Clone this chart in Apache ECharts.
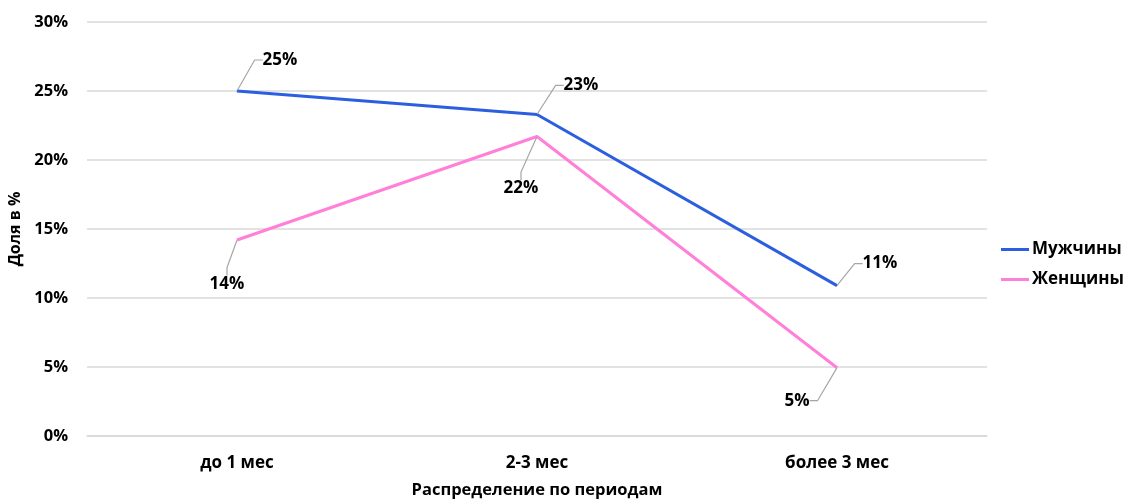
<!DOCTYPE html>
<html lang="ru">
<head>
  <meta charset="UTF-8">
  <title>Доля по периодам</title>
  <style>
    html, body { margin: 0; padding: 0; background: #fff; }
    #chart { width: 1131px; height: 500px; }
  </style>
</head>
<body>
  <div id="chart"></div>
  <script src="https://cdn.jsdelivr.net/npm/echarts@6/dist/echarts.min.js"></script>
  <script>
    var categories = ['до 1 мес', '2-3 мес', 'более 3 мес']
    var men = [25.0, 23.3, 10.9]
    var women = [14.2, 21.7, 4.95]
    var yTicks = [0, 5, 10, 15, 20, 25, 30]

    var font = 'Open Sans'
    var guide = { show: true, length2: 8, lineStyle: { color: '#a6a6a6', width: 1.2 } }

    // label offsets relative to the point (layout only)
    var menShift = [[43, -31], [44, -29], [43, -22]]
    var womenShift = [[-10, 44], [-16, 52], [-40, 33]]

    function lineSeries(name, values, color, shift) {
      return {
        name: name,
        type: 'line',
        data: values,
        symbol: 'circle',
        symbolSize: 1,
        itemStyle: { color: color },
        lineStyle: { color: color, width: 3 },
        label: {
          show: true,
          position: 'inside',
          color: '#000',
          fontFamily: font,
          fontWeight: 'bold',
          fontSize: 17,
          formatter: function (p) { return Math.round(p.value) + '%' }
        },
        labelLine: guide,
        labelLayout: function (p) {
          var s = shift[p.dataIndex]
          return { dx: s[0], dy: s[1] }
        },
        emphasis: { disabled: true }
      }
    }

    var myChart = echarts.init(document.getElementById('chart'))
    var option = {
      animation: false,
      grid: { left: 87, right: 144, top: 22, bottom: 64, containLabel: false, outerBoundsMode: 'none' },
      legend: {
        orient: 'vertical',
        right: 2,
        top: 236,
        itemWidth: 28,
        itemHeight: 3,
        itemGap: 13,
        icon: 'rect',
        textStyle: { fontFamily: font, fontWeight: 'bold', fontSize: 17, color: '#000', padding: [0, 0, 0, -2] },
        data: ['Мужчины', 'Женщины']
      },
      xAxis: {
        type: 'category',
        data: categories,
        name: 'Распределение по периодам',
        nameLocation: 'middle',
        nameGap: 46,
        nameTextStyle: { fontFamily: font, fontWeight: 'bold', fontSize: 16.5, color: '#000' },
        axisLine: { show: true, lineStyle: { color: '#d9d9d9', width: 1.5 } },
        axisTick: { show: false },
        axisLabel: { margin: 19, fontFamily: font, fontWeight: 'bold', fontSize: 17, color: '#000' }
      },
      yAxis: {
        type: 'value',
        min: yTicks[0],
        max: yTicks[yTicks.length - 1],
        interval: yTicks[1] - yTicks[0],
        name: 'Доля в %',
        nameLocation: 'middle',
        nameGap: 62,
        nameTextStyle: { fontFamily: font, fontWeight: 'bold', fontSize: 16, color: '#000' },
        axisLine: { show: false },
        axisTick: { show: false },
        splitLine: { lineStyle: { color: '#d9d9d9', width: 1.5 } },
        axisLabel: { margin: 19, fontFamily: font, fontWeight: 'bold', fontSize: 16.5, color: '#000', formatter: '{value}%' }
      },
      series: [
        lineSeries('Мужчины', men, '#2b5fe0', menShift),
        lineSeries('Женщины', women, '#ff7fd9', womenShift)
      ]
    }
    myChart.setOption(option)
  </script>
</body>
</html>
